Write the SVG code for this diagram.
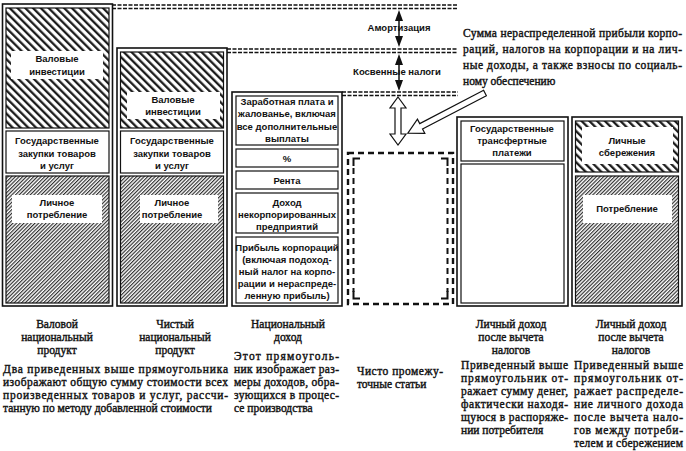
<svg xmlns="http://www.w3.org/2000/svg" width="686" height="451" viewBox="0 0 686 451">
<defs>
<pattern id="hc" patternUnits="userSpaceOnUse" width="5.5" height="10" patternTransform="rotate(-45)"><rect width="5.5" height="10" fill="#fff"/><line x1="1.2" y1="0" x2="1.2" y2="10" stroke="#111" stroke-width="2.2"/></pattern>
<pattern id="hf" patternUnits="userSpaceOnUse" width="2.6" height="10" patternTransform="rotate(45)"><rect width="2.6" height="10" fill="#fff"/><line x1="0.6" y1="0" x2="0.6" y2="10" stroke="#222" stroke-width="1.1"/></pattern>
</defs>
<style>
.outer{fill:#fff;stroke:#111;stroke-width:1.6}
.box{fill:#fff;stroke:#111;stroke-width:1.2}
.hc{fill:url(#hc);stroke:#111;stroke-width:1.2}
.hf{fill:url(#hf);stroke:#111;stroke-width:1.2}
.bg{fill:#fff;stroke:none}
.lbl{font-family:"Liberation Sans",Arial,sans-serif;font-weight:bold;font-size:9.5px;fill:#111;text-anchor:middle}
.ser{font-family:"Liberation Serif","Times New Roman",serif;font-size:11.5px;fill:#111;stroke:#111;stroke-width:0.4}
.c{text-anchor:middle}
.dl{stroke:#111;stroke-width:1.4;stroke-dasharray:4 1.5;fill:none}
.ah{fill:#111;stroke:none}
.hol{fill:#fff;stroke:#111;stroke-width:1.2}
.df{fill:none;stroke:#111;stroke-dasharray:6 4}
</style>
<rect width="686" height="451" fill="#fff"/>

<g id="connectors">
<line class="dl" x1="112" y1="5" x2="458" y2="5"/>
<line class="dl" x1="112" y1="8.5" x2="458" y2="8.5"/>
<line class="dl" x1="227" y1="49" x2="458" y2="49"/>
<line class="dl" x1="227" y1="52.5" x2="458" y2="52.5"/>
<line class="dl" x1="342" y1="92" x2="458" y2="92"/>
<line class="dl" x1="342" y1="95.5" x2="458" y2="95.5"/>
<line x1="399" y1="17" x2="399" y2="40" stroke="#111" stroke-width="1.5"/>
<polygon class="ah" points="399,10 395,21 403,21"/>
<polygon class="ah" points="399,47 395,36 403,36"/>
<line x1="399" y1="61" x2="399" y2="84" stroke="#111" stroke-width="1.5"/>
<polygon class="ah" points="399,54 395,65 403,65"/>
<polygon class="ah" points="399,91 395,80 403,80"/>
<polygon class="hol" points="398,97 406,108 401,108 401,134 406,134 398,145 390,134 395,134 395,108 390,108"/>
<polygon class="hol" transform="translate(485,93) rotate(152.5)" points="0,-3 72,-3 72,-8 87,0 72,8 72,3 0,3"/>
</g>

<g id="amort"><text class="lbl" x="399" y="30.5">Амортизация</text></g>
<g id="indirect"><text class="lbl" x="397" y="74.5">Косвенные налоги</text></g>

<g id="gnp">
<rect class="outer" x="2.5" y="4" width="110" height="302"/>
<rect class="hc" x="6" y="8" width="103" height="120"/>
<rect class="bg" x="11" y="51" width="92" height="28"/>
<text class="lbl" x="57" y="61.5">Валовые</text>
<text class="lbl" x="57" y="74.5">инвестиции</text>
<rect class="box" x="6" y="131" width="103" height="42"/>
<text class="lbl" x="57" y="143.5">Государственные</text>
<text class="lbl" x="57" y="156.5">закупки товаров</text>
<text class="lbl" x="57" y="168.5">и услуг</text>
<rect class="hf" x="6" y="176" width="103" height="127"/>
<rect class="bg" x="12" y="195" width="90" height="28"/>
<text class="lbl" x="57" y="206">Личное</text>
<text class="lbl" x="57" y="218">потребление</text>
</g>

<g id="nnp">
<rect class="outer" x="117" y="48" width="110" height="258"/>
<rect class="hc" x="120.5" y="52" width="103" height="76"/>
<rect class="bg" x="127" y="92" width="93" height="27"/>
<text class="lbl" x="173" y="102.5">Валовые</text>
<text class="lbl" x="173" y="115">инвестиции</text>
<rect class="box" x="120.5" y="131" width="103" height="42"/>
<text class="lbl" x="172" y="143.5">Государственные</text>
<text class="lbl" x="172" y="156.5">закупки товаров</text>
<text class="lbl" x="172" y="168.5">и услуг</text>
<rect class="hf" x="120.5" y="176" width="103" height="127"/>
<rect class="bg" x="140" y="195" width="78" height="28"/>
<text class="lbl" x="172" y="206">Личное</text>
<text class="lbl" x="172" y="218">потребление</text>
</g>

<g id="ni">
<rect class="outer" x="232" y="92" width="110" height="214"/>
<rect class="box" x="236" y="96" width="102" height="49"/>
<text class="lbl" x="287" y="104.5">Заработная плата и</text>
<text class="lbl" x="287" y="117">жалованье, включая</text>
<text class="lbl" x="287" y="129.5">все дополнительные</text>
<text class="lbl" x="287" y="141.5">выплаты</text>
<rect class="box" x="236" y="149" width="102" height="18"/>
<text class="lbl" x="287" y="161.5">%</text>
<rect class="box" x="236" y="171" width="102" height="18"/>
<text class="lbl" x="287" y="183.5">Рента</text>
<rect class="box" x="236" y="193" width="102" height="40"/>
<text class="lbl" x="287" y="205.5">Доход</text>
<text class="lbl" x="287" y="217.5">некорпорированных</text>
<text class="lbl" x="287" y="229.5">предприятий</text>
<rect class="box" x="236" y="237" width="102" height="66"/>
<text class="lbl" x="287" y="250.5">Прибыль корпораций</text>
<text class="lbl" x="287" y="262.5">(включая подоход-</text>
<text class="lbl" x="287" y="274.5">ный налог на корпо-</text>
<text class="lbl" x="287" y="286.5">рации и нераспреде-</text>
<text class="lbl" x="287" y="298.5">ленную прибыль)</text>
</g>

<g id="intermediate">
<rect class="df" x="348" y="153" width="105" height="151" stroke-width="2.4"/>
<line class="df" x1="353.5" y1="168" x2="353.5" y2="292" stroke-width="2"/>
<line class="df" x1="447.5" y1="168" x2="447.5" y2="292" stroke-width="2"/>
<path d="M353.5,166 V158.5 H360 M447.5,166 V158.5 H441 M353.5,291 V298.5 H360 M447.5,291 V298.5 H441" fill="none" stroke="#111" stroke-width="2"/>
</g>

<g id="dpi">
<rect class="outer" x="457" y="117" width="111" height="189"/>
<rect class="box" x="461" y="121" width="103" height="40"/>
<text class="lbl" x="512" y="131.5">Государственные</text>
<text class="lbl" x="512" y="143.5">трансфертные</text>
<text class="lbl" x="512" y="155.5">платежи</text>
<rect class="box" x="461" y="164" width="103" height="139"/>
</g>

<g id="dpi-use">
<rect class="outer" x="572" y="117" width="110" height="189"/>
<rect class="hc" x="575.5" y="121" width="103" height="51"/>
<rect class="bg" x="582" y="127" width="91" height="37"/>
<text class="lbl" x="627" y="143.5">Личные</text>
<text class="lbl" x="627" y="155.5">сбережения</text>
<rect class="hf" x="575.5" y="176" width="103" height="127"/>
<rect class="bg" x="583" y="195" width="89" height="28"/>
<text class="lbl" x="627" y="211.5">Потребление</text>
</g>

<g id="note-top">
<text class="ser" x="463" y="37" textLength="219" lengthAdjust="spacing">Сумма нераспределенной прибыли корпо-</text>
<text class="ser" x="463" y="53" textLength="219" lengthAdjust="spacing">раций, налогов на корпорации и на лич-</text>
<text class="ser" x="463" y="69" textLength="219" lengthAdjust="spacing">ные доходы, а также взносы по социаль-</text>
<text class="ser" x="463" y="85">ному обеспечению</text>
</g>

<g id="captions">
<text class="ser c" x="57" y="328">Валовой</text>
<text class="ser c" x="57" y="341">национальный</text>
<text class="ser c" x="57" y="354">продукт</text>
<text class="ser c" x="175" y="328">Чистый</text>
<text class="ser c" x="175" y="341">национальный</text>
<text class="ser c" x="175" y="354">продукт</text>
<text class="ser c" x="288" y="328">Национальный</text>
<text class="ser c" x="288" y="341">доход</text>
<text class="ser c" x="511" y="328">Личный доход</text>
<text class="ser c" x="511" y="341">после вычета</text>
<text class="ser c" x="511" y="354">налогов</text>
<text class="ser c" x="631" y="328">Личный доход</text>
<text class="ser c" x="631" y="341">после вычета</text>
<text class="ser c" x="631" y="354">налогов</text>

<text class="ser" x="3" y="373" textLength="225" lengthAdjust="spacing">Два приведенных выше прямоугольника</text>
<text class="ser" x="3" y="386" textLength="225" lengthAdjust="spacing">изображают общую сумму стоимости всех</text>
<text class="ser" x="3" y="399" textLength="225" lengthAdjust="spacing">произведенных товаров и услуг, рассчи-</text>
<text class="ser" x="3" y="412">танную по методу добавленной стоимости</text>

<text class="ser" x="234" y="360" textLength="105" lengthAdjust="spacing">Этот прямоуголь-</text>
<text class="ser" x="234" y="373" textLength="105" lengthAdjust="spacing">ник изображает раз-</text>
<text class="ser" x="234" y="386" textLength="105" lengthAdjust="spacing">меры доходов, обра-</text>
<text class="ser" x="234" y="399" textLength="105" lengthAdjust="spacing">зующихся в процес-</text>
<text class="ser" x="234" y="412">се производства</text>

<text class="ser" x="357" y="375" textLength="86" lengthAdjust="spacing">Чисто промежу-</text>
<text class="ser" x="357" y="388">точные статьи</text>

<text class="ser" x="461" y="369" textLength="107" lengthAdjust="spacing">Приведенный выше</text>
<text class="ser" x="461" y="382" textLength="107" lengthAdjust="spacing">прямоугольник от-</text>
<text class="ser" x="461" y="395" textLength="107" lengthAdjust="spacing">ражает сумму денег,</text>
<text class="ser" x="461" y="408" textLength="107" lengthAdjust="spacing">фактически находя-</text>
<text class="ser" x="461" y="421" textLength="107" lengthAdjust="spacing">щуюся в распоряже-</text>
<text class="ser" x="461" y="434">нии потребителя</text>

<text class="ser" x="574" y="369" textLength="109" lengthAdjust="spacing">Приведенный выше</text>
<text class="ser" x="574" y="382" textLength="109" lengthAdjust="spacing">прямоугольник от-</text>
<text class="ser" x="574" y="395" textLength="109" lengthAdjust="spacing">ражает распределе-</text>
<text class="ser" x="574" y="408" textLength="109" lengthAdjust="spacing">ние личного дохода</text>
<text class="ser" x="574" y="421" textLength="109" lengthAdjust="spacing">после вычета нало-</text>
<text class="ser" x="574" y="434" textLength="109" lengthAdjust="spacing">гов между потреби-</text>
<text class="ser" x="574" y="447" textLength="109" lengthAdjust="spacing">телем и сбережением</text>
</g>
</svg>
